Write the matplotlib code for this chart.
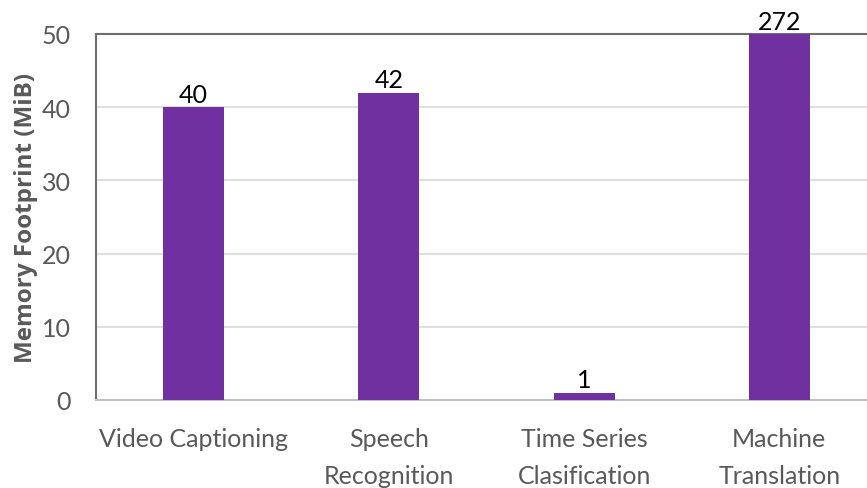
import matplotlib
matplotlib.use("Agg")
import matplotlib.pyplot as plt
import numpy as np

categories = ["Video Captioning", "Speech\nRecognition", "Time Series\nClasification", "Machine\nTranslation"]
memory_mib = [40, 42, 1, 272]
y_ticks = [0, 10, 20, 30, 40, 50]
y_max = 50

plt.rcParams["font.family"] = ["Lato", "DejaVu Sans"]

W, H = 867, 489
fig = plt.figure(figsize=(W / 100, H / 100), dpi=100)

# plot area in pixel coordinates (extends past the right edge of the canvas)
left_px, right_px, top_px, bottom_px = 96, 877, 35, 401
ax = fig.add_axes([left_px / W, 1 - bottom_px / H,
                   (right_px - left_px) / W, (bottom_px - top_px) / H])

x = np.arange(len(categories))
bar_color = "#7030A0"
ax.bar(x, memory_mib, width=0.312, color=bar_color, zorder=3)

ax.set_xlim(-0.5, len(categories) - 0.5)
ax.set_ylim(0, y_max)
ax.set_yticks(y_ticks)
ax.set_xticks(x)
ax.set_xticklabels(categories, linespacing=1.72)

ax.yaxis.grid(True, color="#D9D9D9", linewidth=1.2, zorder=0)
ax.set_axisbelow(True)

for side in ["left", "top"]:
    ax.spines[side].set_color("#6E6E6E")
    ax.spines[side].set_linewidth(1.5)
ax.spines["bottom"].set_color("#BFBFBF")
ax.spines["bottom"].set_linewidth(1.5)
ax.spines["right"].set_visible(False)

ax.tick_params(axis="both", length=0, labelsize=18, labelcolor="#595959")
ax.tick_params(axis="y", pad=18)
ax.tick_params(axis="x", pad=19.5)

# value labels above each bar (clipped bar labelled at the top of the axis)
for xi, v in zip(x, memory_mib):
    ax.annotate(f"{v}", xy=(xi, min(v, y_max)), xytext=(0, 1),
                textcoords="offset points", ha="center", va="bottom",
                fontsize=18, color="black", annotation_clip=False)

fig.text(26 / W, 1 - 217.5 / H, "Memory Footprint (MiB)", rotation=90,
         ha="center", va="center", fontsize=17.5, fontweight="bold",
         family=["Open Sans", "DejaVu Sans"], color="#595959")

fig.savefig("out.png", dpi=100)
